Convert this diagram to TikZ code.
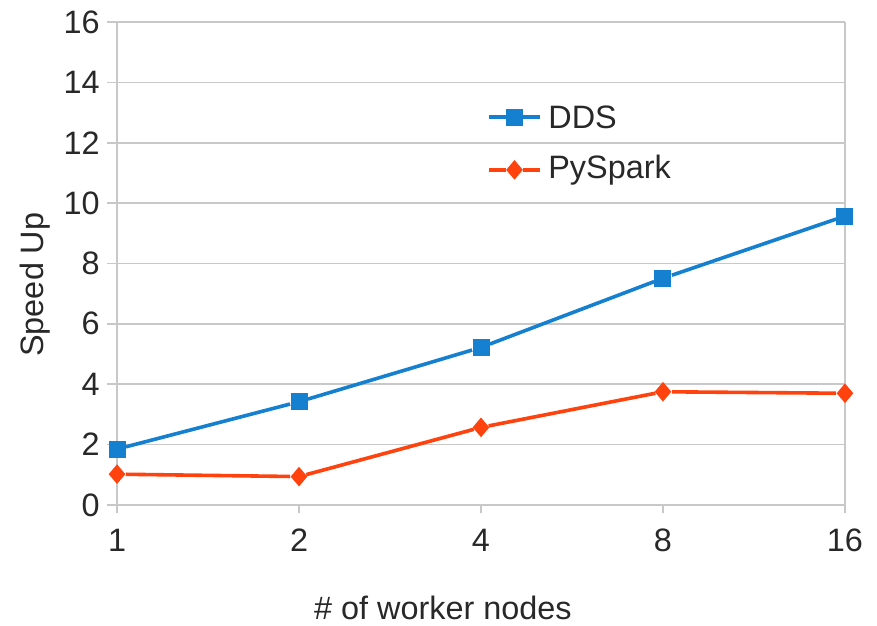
\documentclass[tikz,border=0pt]{standalone}
\usepackage{fontspec}
\setmainfont{Liberation Sans}
\usepackage{tikz}
\usepackage{xcolor}
\usetikzlibrary{shapes.geometric}

\definecolor{ddsblue}{RGB}{20,128,207}
\definecolor{sparkred}{RGB}{255,66,14}
\definecolor{gridgray}{RGB}{200,200,200}
\definecolor{labelgray}{RGB}{40,40,40}

\tikzset{
    gridline/.style={gridgray, line width=0.8pt},
    ticklabel/.style={inner sep=0pt, text=labelgray, font=\fontsize{16.2}{19}\selectfont},
    ddsmark/.style={fill=ddsblue, rectangle, minimum size=8.5pt, inner sep=0pt},
    sparkmark/.style={fill=sparkred, diamond, minimum width=8.5pt, minimum height=10pt, inner sep=0pt},
    ddsline/.style={ddsblue, line width=1.8pt},
    sparkline/.style={sparkred, line width=1.8pt}
}

\begin{document}
\begin{tikzpicture}[x=91pt, y=15.095pt]
    \useasboundingbox (-0.643,-4.008) rectangle (4.176,16.727);

    % grid and axes
    \foreach \v in {0,2,...,16} {
        \draw[gridline] (-0.055,\v)--(4,\v);
        \node[ticklabel, anchor=east] at (-0.093,\v) {\v};
    }
    \draw[gridline] (0,-0.265)--(0,16);
    \draw[gridline] (4,-0.265)--(4,16);
    \foreach \i/\n in {1/2,2/4,3/8} {
        \draw[gridline] (\i,-0.265)--(\i,0);
    }
    \foreach \i/\n in {0/1,1/2,2/4,3/8,4/16} {
        \node[ticklabel] at (\i,-1.159) {\n};
    }
    \node[ticklabel] (xtitle) at (1.791,-3.41) {\# of worker nodes};
    \node[ticklabel, rotate=90] (ytitle) at (-0.4505,7.30) {Speed Up};

    % DDS
    \node[ddsmark] (d1) at (0,1.85) {};
    \node[ddsmark] (d2) at (1,3.42) {};
    \node[ddsmark] (d3) at (2,5.22) {};
    \node[ddsmark] (d4) at (3,7.51) {};
    \node[ddsmark] (d5) at (4,9.57) {};
    \draw[ddsline] (d1)--(d2)--(d3)--(d4)--(d5);

    % PySpark
    \node[sparkmark] (p1) at (0,1.02) {};
    \node[sparkmark] (p2) at (1,0.94) {};
    \node[sparkmark] (p3) at (2,2.57) {};
    \node[sparkmark] (p4) at (3,3.75) {};
    \node[sparkmark] (p5) at (4,3.70) {};
    \draw[sparkline] (p1)--(p2)--(p3)--(p4)--(p5);

    % legend
    \coordinate (ddsa) at (2.044,12.85);
    \coordinate (ddsb) at (2.324,12.85);
    \node[ddsmark] (ddskey) at (2.184,12.85) {};
    \draw[ddsline] (ddsa)--(ddskey)--(ddsb);
    \node[ticklabel, anchor=west] (ddstext) at (2.368,12.85) {DDS};

    \coordinate (sparka) at (2.044,11.10);
    \coordinate (sparkb) at (2.324,11.10);
    \node[sparkmark] (sparkkey) at (2.184,11.10) {};
    \draw[sparkline] (sparka)--(sparkkey)--(sparkb);
    \node[ticklabel, anchor=west] (sparktext) at (2.368,11.10) {PySpark};

\end{tikzpicture}
\end{document}
